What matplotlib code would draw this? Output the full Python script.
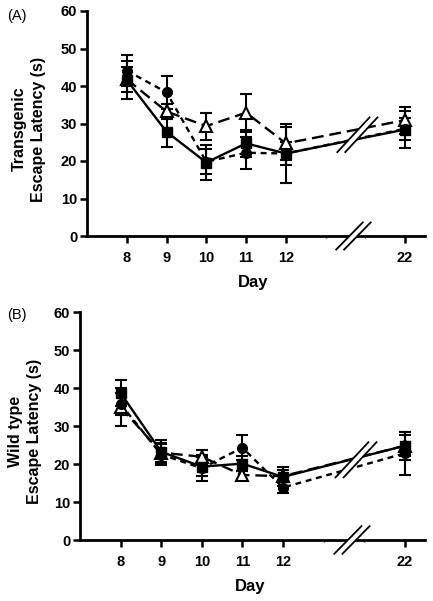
import matplotlib
matplotlib.use("Agg")
import matplotlib.pyplot as plt
from matplotlib.patches import Polygon

plt.rcParams["font.family"] = ["Liberation Sans", "DejaVu Sans"]

days = [8, 9, 10, 11, 12, 22]
day_labels = ["8", "9", "10", "11", "12", "22"]

# panel A - transgenic
sq_a = [41.6, 27.8, 19.6, 24.7, 22.0, 28.4]
sq_a_err = [5.1, 4.0, 4.6, 3.7, 7.8, 5.0]
ci_a = [44.1, 38.3, 19.8, 22.2, 22.0, 28.6]
ci_a_err = [4.2, 4.5, 3.3, 4.3, 3.1, 3.0]
tr_a = [41.8, 33.2, 29.3, 32.9, 24.7, 30.9]
tr_a_err = [3.3, 2.0, 3.6, 5.1, 4.4, 3.6]

# panel B - wild type
sq_b = [38.7, 23.2, 19.3, 20.1, 16.6, 24.8]
sq_b_err = [3.5, 3.1, 2.5, 2.0, 2.5, 3.7]
ci_b = [35.8, 22.5, 18.9, 24.3, 13.8, 22.8]
ci_b_err = [3.0, 2.8, 3.4, 3.3, 1.5, 5.7]
tr_b = [35.0, 23.0, 21.9, 17.1, 16.8, 24.8]
tr_b_err = [5.0, 2.4, 1.9, 1.0, 1.5, 2.8]

# broken x axis: day 22 is drawn 3 units after day 12
pos = [d if d <= 12 else 15 for d in days]
brk = 13.7

W, H = 433, 601
fig = plt.figure(figsize=(W / 100, H / 100), dpi=100)


def slashes(ax, xc, yc, dx, dy, clip=True):
    # double slash with white gap, used for the axis break
    off = 0.1
    gap = Polygon([[xc - dx, yc - dy], [xc + dx - off * 0.2, yc + dy],
                   [xc + dx + off * 2, yc + dy], [xc - dx + off * 2, yc - dy]],
                  closed=True, fc="white", ec="none", zorder=8, clip_on=clip)
    ax.add_patch(gap)
    for s in (0, off * 2):
        ax.plot([xc - dx + s, xc + dx + s], [yc - dy, yc + dy], color="black",
                lw=1.3, zorder=9, clip_on=clip, solid_capstyle="butt")


def panel(rect, sq, sq_e, ci, ci_e, tr, tr_e, ybrk):
    ax = fig.add_axes(rect)
    common = dict(color="black", ecolor="black", elinewidth=1.5, capsize=4.5,
                  capthick=1.5, lw=1.7)
    ax.errorbar(pos, tr, yerr=tr_e, marker="^", ms=8.5, mfc="white", mec="black",
                mew=1.5, ls=(0, (5, 2.5)), **common)
    ax.errorbar(pos, ci, yerr=ci_e, marker="o", ms=7, mfc="black", mec="black",
                ls=(0, (2.5, 2)), **common)
    ax.errorbar(pos, sq, yerr=sq_e, marker="s", ms=7, mfc="black", mec="black",
                ls="-", **common)
    ax.set_xlim(7.0, 15.5)
    ax.set_ylim(0, 60)
    ax.set_yticks([0, 10, 20, 30, 40, 50, 60])
    ax.set_xticks(pos)
    ax.set_xticklabels(day_labels)
    ax.set_xticks([13, 14], minor=True)
    for s in ("top", "right"):
        ax.spines[s].set_visible(False)
    for s in ("left", "bottom"):
        ax.spines[s].set_linewidth(2)
    ax.tick_params(axis="both", which="major", direction="out", length=5,
                   width=1.8, labelsize=10.5)
    ax.tick_params(axis="x", which="minor", length=1.5, width=1)
    ax.tick_params(axis="x", pad=6)
    ax.tick_params(axis="y", pad=2)
    for t in ax.get_xticklabels() + ax.get_yticklabels():
        t.set_fontweight("bold")
    slashes(ax, brk, ybrk, 0.42, 4.8)
    slashes(ax, brk - 0.1, 0, 0.35, 3.8, clip=False)
    return ax


axA = panel([87 / W, 1 - 236 / H, 338 / W, 225 / H],
            sq_a, sq_a_err, ci_a, ci_a_err, tr_a, tr_a_err, 27.0)
axB = panel([80 / W, 1 - 540 / H, 345 / W, 228 / H],
            sq_b, sq_b_err, ci_b, ci_b_err, tr_b, tr_b_err, 21.1)

fig.text(17 / W, 1 - 16 / H, "(A)", fontsize=10.5, ha="center", va="center")
fig.text(17 / W, 1 - 315 / H, "(B)", fontsize=10.5, ha="center", va="center")

fig.text(29 / W, 1 - 129 / H, "Transgenic\nEscape Latency (s)", rotation=90,
         fontsize=11.5, fontweight="bold", ha="center", va="center",
         multialignment="center", linespacing=1.4)
fig.text(25 / W, 1 - 431 / H, "Wild type\nEscape Latency (s)", rotation=90,
         fontsize=11.5, fontweight="bold", ha="center", va="center",
         multialignment="center", linespacing=1.4)

fig.text(253 / W, 1 - 283 / H, "Day", fontsize=12, fontweight="bold",
         ha="center", va="center")
fig.text(250 / W, 1 - 587 / H, "Day", fontsize=12, fontweight="bold",
         ha="center", va="center")

fig.savefig("out.png", dpi=100, facecolor="white")
